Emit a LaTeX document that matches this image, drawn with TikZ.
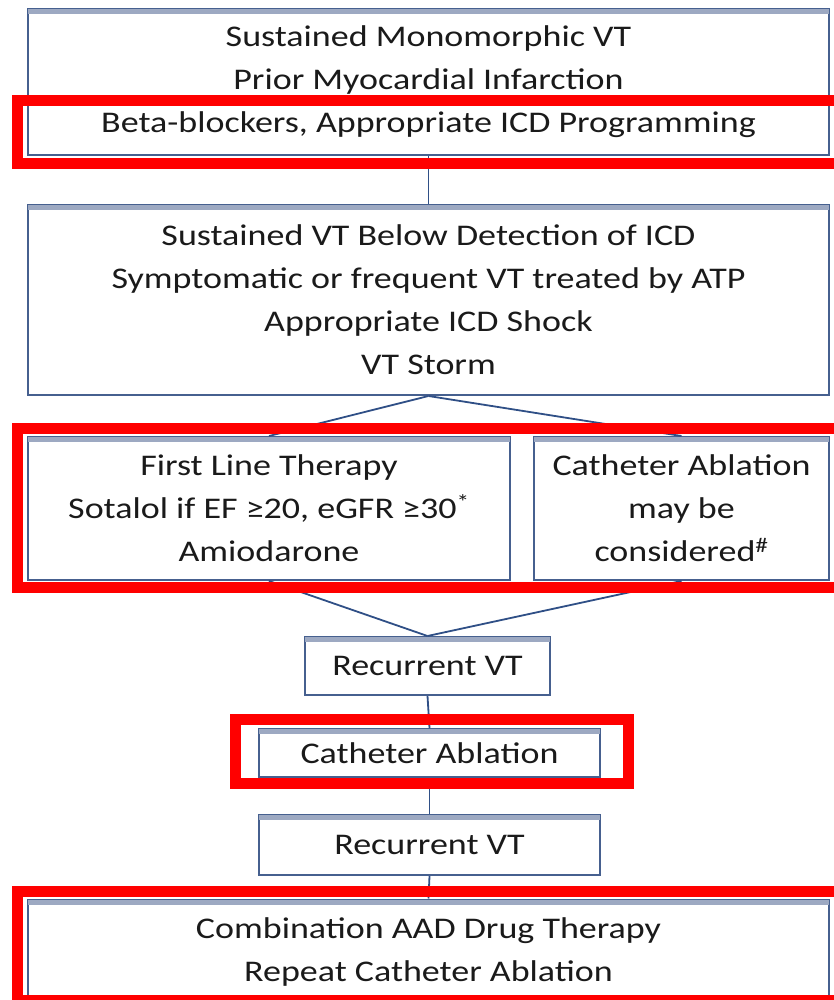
\documentclass[tikz,border=0pt]{standalone}
\usepackage{fontspec}
\setmainfont{Carlito}[FakeStretch=1.2]
\definecolor{boxline}{HTML}{46608F}
\definecolor{boxtop}{HTML}{9DA9C2}
\definecolor{conn}{HTML}{2F4F86}
\definecolor{txt}{HTML}{1A1A1A}
\definecolor{hl}{HTML}{FF0000}
\tikzset{
  flowbox/.style={draw=boxline, line width=2pt, fill=white, rectangle, inner sep=0pt,
    align=center, text=txt, font=\fontsize{30}{43}\selectfont},
  link/.style={draw=conn, line width=1.8pt},
  mark box/.style={draw=hl, line width=11pt}
}
\begin{document}
\begin{tikzpicture}[x=1pt,y=-1pt]
\useasboundingbox (0,0) rectangle (833,1000);
\node[flowbox, minimum width=801pt, minimum height=146pt] (b1) at (428.5,82)
  {Sustained Monomorphic VT\\Prior Myocardial Infarction\\Beta-blockers, Appropriate ICD Programming};
\node[flowbox, minimum width=801pt, minimum height=190pt] (b2) at (428.5,300)
  {Sustained VT Below Detection of ICD\\Symptomatic or frequent VT treated by ATP\\Appropriate ICD Shock\\VT Storm};
\node[flowbox, minimum width=482pt, minimum height=143pt] (b3a) at (269,508.5)
  {First Line Therapy\\Sotalol if EF ≥20, eGFR ≥30\textsuperscript{*}\\Amiodarone};
\node[flowbox, minimum width=295pt, minimum height=143pt] (b3b) at (681.5,508.5)
  {Catheter Ablation\\may be\\considered\textsuperscript{\#}};
\node[flowbox, minimum width=245pt, minimum height=58pt] (b4) at (427.5,666) {Recurrent VT};
\node[flowbox, minimum width=341pt, minimum height=48pt] (b5) at (429.5,753) {Catheter Ablation};
\node[flowbox, minimum width=341pt, minimum height=60pt] (b6) at (429.5,845) {Recurrent VT};
\node[flowbox, minimum width=801pt, minimum height=105pt] (b7) at (428.5,952)
  {Combination AAD Drug Therapy\\Repeat Catheter Ablation};
% top bands
\foreach \n in {b1,b2,b3a,b3b,b4,b5,b6,b7}{
  \draw[boxtop, line width=5pt] ([yshift=-3.5pt,xshift=1pt]\n.north west) -- ([yshift=-3.5pt,xshift=-1pt]\n.north east);
}
% connectors
\path[link] (b1.south) -- (b2.north);
\path[link] (b2.south) -- (b3a.north);
\path[link] (b2.south) -- (b3b.north);
\path[link] (b3a.south) -- (b4.north);
\path[link] (b3b.south) -- (b4.north);
\path[link] (b4.south) -- (b5.north);
\path[link] (b5.south) -- (b6.north);
\path[link] (b6.south) -- (b7.north);
% red highlight frames
\draw[mark box] (17,101) rectangle (845,164);
\draw[mark box] (17,428) rectangle (845,587);
\draw[mark box] (235,719) rectangle (628,783);
\draw[mark box] (17,891) rectangle (845,1000);
\end{tikzpicture}
\end{document}
